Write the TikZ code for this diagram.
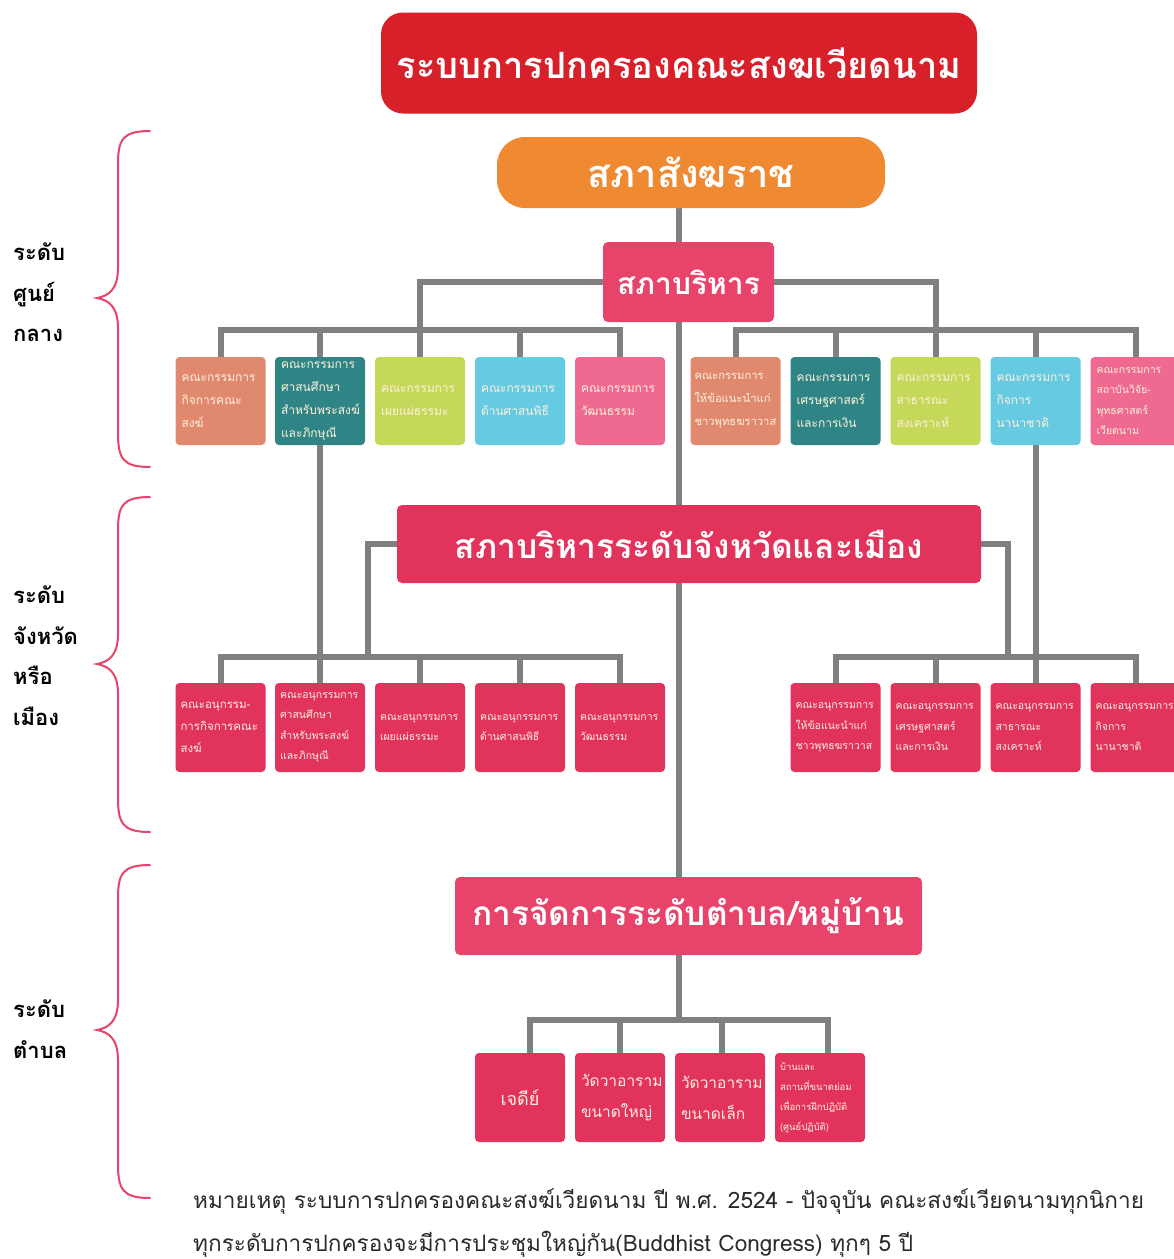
\documentclass[tikz,border=0pt]{standalone}
\usepackage{fontspec}
\newfontfamily\thai[Script=Thai]{Loma}
\usetikzlibrary{backgrounds}
\definecolor{titlered}{HTML}{D7202A}
\definecolor{orangeb}{HTML}{F08A32}
\definecolor{pinkred}{HTML}{E8436A}
\definecolor{crimson}{HTML}{E1335B}
\definecolor{salmon}{HTML}{E0896F}
\definecolor{tealb}{HTML}{2F8585}
\definecolor{limeb}{HTML}{C6D85A}
\definecolor{cyanb}{HTML}{66CAE2}
\definecolor{pinkb}{HTML}{EF6A90}
\definecolor{cream}{HTML}{FFF1DC}
\definecolor{lineg}{HTML}{808080}
\definecolor{foot}{HTML}{2A2A2A}
\tikzset{
  bigbox/.style={rounded corners=#1, text=white, inner sep=0pt, align=center},
  cbox/.style={fill=#1, rounded corners=4pt, minimum width=90pt, minimum height=88pt,
    inner sep=0pt, text width=78pt, align=left, text=cream,
    font=\thai\fontsize{12}{23}\selectfont},
  sbox/.style={fill=crimson, rounded corners=4pt, minimum width=90pt, minimum height=89pt,
    inner sep=0pt, text width=80pt, align=left, text=cream,
    font=\thai\fontsize{10.5}{20.5}\selectfont},
  conn/.style={draw=lineg, line width=6pt},
  brace/.style={draw=pinkred, line width=2pt, line cap=round},
  lvl/.style={anchor=north west, align=left, inner sep=0pt, text=black,
    font=\thai\bfseries\fontsize{22}{40.5}\selectfont}
}
\begin{document}
\begin{tikzpicture}[x=1pt,y=-1pt]
\useasboundingbox (0,0) rectangle (1174,1259);

% main boxes
\node[bigbox=22pt, fill=titlered, minimum width=596pt, minimum height=101pt,
  font=\thai\bfseries\fontsize{36.2}{40}\selectfont] (title) at (679,63) {ระบบการปกครองคณะสงฆเวียดนาม};
\node[bigbox=28pt, fill=orangeb, minimum width=388pt, minimum height=71pt,
  font=\thai\bfseries\fontsize{38}{42}\selectfont] (sangha) at (691,172.5) {สภาสังฆราช};
\node[bigbox=5pt, fill=pinkred, minimum width=171pt, minimum height=80pt,
  font=\thai\bfseries\fontsize{30}{34}\selectfont] (exec) at (688.5,282) {สภาบริหาร};
\node[bigbox=5pt, fill=crimson, minimum width=584pt, minimum height=78pt,
  font=\thai\bfseries\fontsize{33.6}{38}\selectfont] (prov) at (689,544) {สภาบริหารระดับจังหวัดและเมือง};
\node[bigbox=5pt, fill=pinkred, minimum width=467pt, minimum height=78pt,
  font=\thai\bfseries\fontsize{33.4}{36}\selectfont] (local) at (688.5,916) {การจัดการระดับตำบล/หมู่บ้าน};

% top committees
\node[cbox=salmon] (tl1) at (220.5,401) {คณะกรรมการ\\กิจการคณะ\\สงฆ์};
\node[cbox=tealb] (tl2) at (320,401) {คณะกรรมการ\\ศาสนศึกษา\\สำหรับพระสงฆ์\\และภิกษุณี};
\node[cbox=limeb] (tl3) at (420,401) {คณะกรรมการ\\เผยแผ่ธรรมะ};
\node[cbox=cyanb] (tl4) at (520,401) {คณะกรรมการ\\ด้านศาสนพิธี};
\node[cbox=pinkb] (tl5) at (620,401) {คณะกรรมการ\\วัฒนธรรม};
\node[cbox=salmon, text width=82pt, font=\thai\fontsize{11.2}{23}\selectfont] (tr1) at (735.5,401) {คณะกรรมการ\\ให้ข้อแนะนำแก่\\ชาวพุทธฆราวาส};
\node[cbox=tealb] (tr2) at (835.5,401) {คณะกรรมการ\\เศรษฐศาสตร์\\และการเงิน};
\node[cbox=limeb] (tr3) at (935.5,401) {คณะกรรมการ\\สาธารณะ\\สงเคราะห์};
\node[cbox=cyanb] (tr4) at (1035.5,401) {คณะกรรมการ\\กิจการ\\นานาชาติ};
\node[cbox=pinkb, font=\thai\fontsize{10.5}{20.5}\selectfont] (tr5) at (1135.5,401) {คณะกรรมการ\\สถาบันวิจัย-\\พุทธศาสตร์\\เวียดนาม};

% provincial sub-committees
\node[sbox, font=\thai\fontsize{11.5}{22}\selectfont] (ml1) at (220.5,727.5) {คณะอนุกรรม-\\การกิจการคณะ\\สงฆ์};
\node[sbox] (ml2) at (320,727.5) {คณะอนุกรรมการ\\ศาสนศึกษา\\สำหรับพระสงฆ์\\และภิกษุณี};
\node[sbox] (ml3) at (420,727.5) {คณะอนุกรรมการ\\เผยแผ่ธรรมะ};
\node[sbox] (ml4) at (520,727.5) {คณะอนุกรรมการ\\ด้านศาสนพิธี};
\node[sbox] (ml5) at (620,727.5) {คณะอนุกรรมการ\\วัฒนธรรม};
\node[sbox] (mr1) at (835.5,727.5) {คณะอนุกรรมการ\\ให้ข้อแนะนำแก่\\ชาวพุทธฆราวาส};
\node[sbox] (mr2) at (935.5,727.5) {คณะอนุกรรมการ\\เศรษฐศาสตร์\\และการเงิน};
\node[sbox] (mr3) at (1035.5,727.5) {คณะอนุกรรมการ\\สาธารณะ\\สงเคราะห์};
\node[sbox] (mr4) at (1135.5,727.5) {คณะอนุกรรมการ\\กิจการ\\นานาชาติ};

% local units
\node[sbox, align=center, font=\thai\fontsize{18}{31}\selectfont] (b1) at (520,1097.5) {เจดีย์};
\node[sbox, text width=78pt, font=\thai\fontsize{15.5}{31}\selectfont] (b2) at (620,1097.5) {วัดวาอาราม\\ขนาดใหญ่};
\node[sbox, text width=78pt, font=\thai\fontsize{15.5}{31}\selectfont] (b3) at (720,1097.5) {วัดวาอาราม\\ขนาดเล็ก};
\node[sbox, font=\thai\fontsize{9.5}{20}\selectfont] (b4) at (820,1097.5) {บ้านและ\\สถานที่ขนาดย่อม\\เพื่อการฝึกปฏิบัติ\\(ศูนย์ปฏิบัติ)};

% helper coordinates
\coordinate (spine) at (679,0);
\coordinate (barL) at (0,330);
\coordinate (barM) at (0,657);
\coordinate (barB) at (0,1020);
\coordinate (provL) at (368,0);
\coordinate (provR) at (1008,0);

\begin{scope}[on background layer]
  \fill[white] (0,0) rectangle (1174,1259);
  \draw[conn] (sangha.south -| spine) -- (spine |- barB);
  % central level
  \draw[conn] (exec.west) -| (tl3.north |- barL);
  \draw[conn] (exec.east) -| (tr3.north |- barL);
  \draw[conn] ([xshift=-3pt]tl1.north |- barL) -- ([xshift=3pt]tl5.north |- barL);
  \draw[conn] ([xshift=-3pt]tr1.north |- barL) -- ([xshift=3pt]tr5.north |- barL);
  \foreach \n in {tl1,tl2,tl3,tl4,tl5,tr1,tr2,tr3,tr4,tr5}
    \draw[conn] (\n.north |- barL) -- (\n.north);
  % provincial level
  \draw[conn] (prov.west) -| (provL |- barM);
  \draw[conn] (prov.east) -| (provR |- barM);
  \draw[conn] ([xshift=-3pt]ml1.north |- barM) -- ([xshift=3pt]ml5.north |- barM);
  \draw[conn] ([xshift=-3pt]mr1.north |- barM) -- ([xshift=3pt]mr4.north |- barM);
  \foreach \n in {ml1,ml2,ml3,ml4,ml5,mr1,mr2,mr3,mr4}
    \draw[conn] (\n.north |- barM) -- (\n.north);
  \draw[conn] (tl2.south) -- (ml2.north);
  \draw[conn] (tr4.south) -- (mr3.north);
  % local level
  \draw[conn] ([xshift=7pt]b1.north |- barB) -- ([xshift=11pt]b4.north |- barB);
  \draw[conn] ([xshift=10pt]b1.north |- barB) -- ([xshift=10pt]b1.north);
  \draw[conn] (b2.north |- barB) -- (b2.north);
  \draw[conn] ([xshift=2pt]b3.north |- barB) -- ([xshift=2pt]b3.north);
  \draw[conn] ([xshift=8pt]b4.north |- barB) -- ([xshift=8pt]b4.north);
\end{scope}

% braces
\draw[brace] (150,131) .. controls (122,131) and (118,140) .. (118,165) -- (118,268)
  .. controls (118,290) and (108,296) .. (97,298) .. controls (108,300) and (118,306) .. (118,328)
  -- (118,432) .. controls (118,458) and (122,467) .. (150,467);
\draw[brace] (150,497) .. controls (122,497) and (118,506) .. (118,531) -- (118,634)
  .. controls (118,656) and (108,662) .. (97,664) .. controls (108,666) and (118,672) .. (118,694)
  -- (118,797) .. controls (118,823) and (122,832) .. (150,832);
\draw[brace] (150,865) .. controls (122,865) and (118,874) .. (118,899) -- (118,1000)
  .. controls (118,1022) and (108,1028) .. (97,1030) .. controls (108,1032) and (118,1038) .. (118,1060)
  -- (118,1163) .. controls (118,1189) and (122,1198) .. (150,1198);

% level labels
\node[lvl] (lv1) at (13,243) {ระดับ\\ศูนย์\\กลาง};
\node[lvl] (lv2) at (13,586) {ระดับ\\จังหวัด\\หรือ\\เมือง};
\node[lvl] (lv3) at (13,1000) {ระดับ\\ตำบล};

% footnote
\node[anchor=north west, align=left, inner sep=0pt, text=foot,
  font=\thai\fontsize{22.6}{43}\selectfont] (note) at (193,1188)
  {หมายเหตุ ระบบการปกครองคณะสงฆ์เวียดนาม ปี พ.ศ. 2524 - ปัจจุบัน คณะสงฆ์เวียดนามทุกนิกาย\\
   ทุกระดับการปกครองจะมีการประชุมใหญ่กัน(Buddhist Congress) ทุกๆ 5 ปี};
\end{tikzpicture}
\end{document}
